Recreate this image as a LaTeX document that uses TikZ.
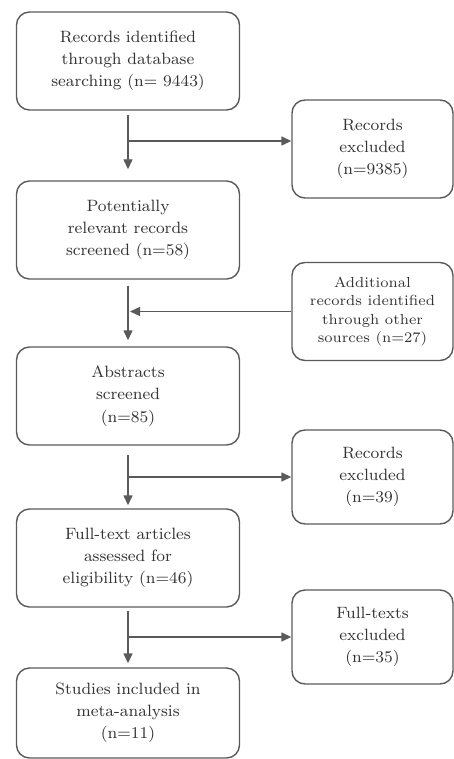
\documentclass[tikz,border=0pt]{standalone}
\usetikzlibrary{arrows.meta}
\definecolor{linegray}{HTML}{5A5A5A}
\definecolor{textgray}{HTML}{333333}
\tikzset{
  box/.style={draw=linegray, line width=0.7pt, rounded corners=6.5pt, align=center,
    text=textgray, minimum width=111.5pt, minimum height=49pt,
    font=\fontsize{8.2}{11.1}\selectfont},
  sidebox/.style={box, minimum width=80.5pt},
  arr/.style={draw=linegray, line width=0.7pt, -{Triangle[length=5pt,width=4.5pt]}}
}
\begin{document}
\begin{tikzpicture}[x=0.5pt,y=-0.5pt]
    \useasboundingbox (0,0) rectangle (454,759);
    % main column
    \node[box] (ident) at (128,61) {Records identified\\through database\\searching (n= 9443)};
    \node[box] (relevant) at (128,230) {Potentially\\relevant records\\screened (n=58)};
    \node[box] (abstr) at (128,396) {Abstracts\\screened\\(n=85)};
    \node[box] (fulltext) at (128,558) {Full-text articles\\assessed for\\eligibility (n=46)};
    \node[box, minimum height=45pt] (incl) at (128,713) {Studies included in\\meta-analysis\\(n=11)};
    % side boxes
    \node[sidebox] (excl1) at (372.5,149) {Records\\excluded\\(n=9385)};
    \node[sidebox, font=\fontsize{7.3}{9.25}\selectfont] (addit) at (372.5,311.5) {Additional\\records identified\\through other\\sources (n=27)};
    \node[sidebox, minimum height=47pt] (excl2) at (372.5,477) {Records\\excluded\\(n=39)};
    \node[sidebox, minimum height=47pt] (excl3) at (372.5,637) {Full-texts\\excluded\\(n=35)};
    % vertical arrows
    \draw[arr, shorten <=2pt, shorten >=5.5pt] (ident.south) -- (relevant.north);
    \draw[arr, shorten <=3pt, shorten >=3pt] (relevant.south) -- (abstr.north);
    \draw[arr, shorten <=4.5pt, shorten >=1.5pt] (abstr.south) -- (fulltext.north);
    \draw[arr, shorten <=1.5pt, shorten >=2pt] (fulltext.south) -- (incl.north);
    % branches
    \coordinate (b1) at (128,141);
    \draw[arr] (b1) -- (b1 -| excl1.west);
    \draw[arr, shorten >=1pt] (addit.west) -- (addit.west -| relevant.south);
    \draw[arr] (excl2.west -| abstr.south) -- (excl2.west);
    \draw[arr] (excl3.west -| fulltext.south) -- (excl3.west);
\end{tikzpicture}
\end{document}
